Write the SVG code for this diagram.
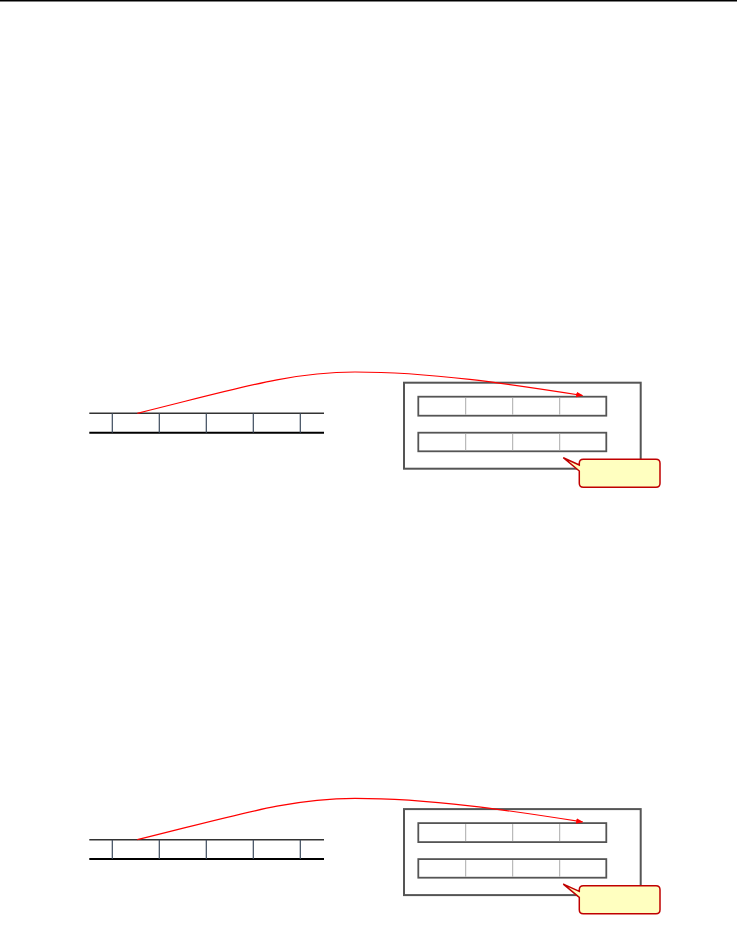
<svg xmlns="http://www.w3.org/2000/svg" width="737" height="929" viewBox="0 0 737 929">
<style>
.top{stroke:#333;stroke-width:1.5;fill:none}
.bot{stroke:#000;stroke-width:2;fill:none}
.div{stroke:#3c4a5c;stroke-width:1.2}
.outer{fill:none;stroke:#555;stroke-width:2}
.row{fill:#fff;stroke:#555;stroke-width:1.8}
.rdiv{stroke:#aaa;stroke-width:1}
.curve{fill:none;stroke:#f00;stroke-width:1.2}
.callout{fill:#ffffc0;stroke:#c00000;stroke-width:1.5}
</style>
<defs>
<marker id="arr" viewBox="0 0 10 10" refX="9" refY="5" markerWidth="7" markerHeight="7" orient="auto" markerUnits="userSpaceOnUse">
<path d="M0,1 L10,5 L0,9 Z" fill="#f00"/>
</marker>
<g id="unit">
<g id="strip">
<line class="top" x1="89.3" y1="413.3" x2="324" y2="413.3"/>
<line class="bot" x1="89.3" y1="432.7" x2="324" y2="432.7"/>
<line class="div" x1="112.3" y1="413.3" x2="112.3" y2="432.7"/>
<line class="div" x1="159.3" y1="413.3" x2="159.3" y2="432.7"/>
<line class="div" x1="206.3" y1="413.3" x2="206.3" y2="432.7"/>
<line class="div" x1="253.3" y1="413.3" x2="253.3" y2="432.7"/>
<line class="div" x1="300.3" y1="413.3" x2="300.3" y2="432.7"/>
</g>
<g id="box">
<rect class="outer" x="404" y="382.7" width="236.7" height="86"/>
<rect class="row" x="418.3" y="396.7" width="188" height="19"/>
<line class="rdiv" x1="465.7" y1="397.7" x2="465.7" y2="414.7"/>
<line class="rdiv" x1="512.7" y1="397.7" x2="512.7" y2="414.7"/>
<line class="rdiv" x1="559.7" y1="397.7" x2="559.7" y2="414.7"/>
<rect class="row" x="418.3" y="432.7" width="188" height="18.6"/>
<line class="rdiv" x1="465.7" y1="433.7" x2="465.7" y2="450.3"/>
<line class="rdiv" x1="512.7" y1="433.7" x2="512.7" y2="450.3"/>
<line class="rdiv" x1="559.7" y1="433.7" x2="559.7" y2="450.3"/>
</g>
<g id="note">
<path class="callout" d="M583.3,459.3 H656 Q660,459.3 660,463.3 V483.3 Q660,487.3 656,487.3 H583.3 Q579.3,487.3 579.3,483.3 V471 L563.3,457.7 L579.3,465 V463.3 Q579.3,459.3 583.3,459.3 Z"/>
</g>
<g id="connectors">
<path class="curve" d="M137.3,413.3 C240,388 290,372 355,372 C430,372 510,384 582.5,395.5" marker-end="url(#arr)"/>
</g>
</g>
</defs>
<line x1="0" y1="0.8" x2="737" y2="0.8" stroke="#000" stroke-width="1.5"/>
<g id="diagram1"><use href="#unit"/></g>
<g id="diagram2" transform="translate(0,426.4)"><use href="#unit"/></g>
</svg>
